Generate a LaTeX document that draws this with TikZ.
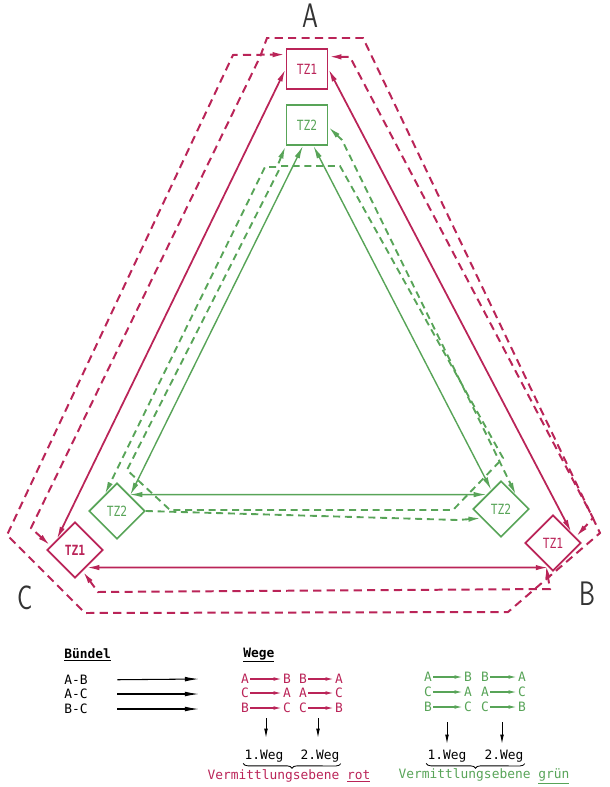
\documentclass[tikz,border=0pt]{standalone}
\usepackage{fontspec}
\setmainfont{DejaVu Sans}
\newfontfamily\legfont{DejaVu Sans Mono}
\usetikzlibrary{arrows.meta,shapes.geometric,decorations.pathreplacing}

\definecolor{vrot}{RGB}{186,36,88}
\definecolor{vgruen}{RGB}{88,164,88}

\newcommand{\tzlabel}[1]{\scalebox{0.8}[1]{#1}}

\begin{document}
\begin{tikzpicture}[
    x=0.03cm, y=-0.03cm,
    font=\legfont\fontsize{12}{13}\selectfont,
    tzbox/.style={
        draw,
        rectangle,
        line width=1.6pt,
        minimum width=1.23cm,
        minimum height=1.2cm,
        inner sep=0pt
    },
    tzdia/.style={
        draw,
        diamond,
        aspect=1,
        line width=1.6pt,
        minimum width=1.68cm,
        minimum height=1.68cm,
        inner sep=0pt
    },
    both/.style={arrows={Latex[length=11pt,width=4.6pt]-Latex[length=11pt,width=4.6pt]}},
    tohead/.style={arrows={-Latex[length=11pt,width=4.6pt]}},
    rsolid/.style={draw=vrot, line width=1.5pt},
    rdash/.style={draw=vrot, line width=1.7pt, dash pattern=on 7pt off 4.5pt},
    gsolid/.style={draw=vgruen, line width=1.2pt},
    gdash/.style={draw=vgruen, line width=1.6pt, dash pattern=on 6pt off 4pt},
    corner/.style={font=\sffamily\fontsize{29}{29}\selectfont, text=black!80},
    leg/.style={font=\legfont\fontsize{11}{12}\selectfont, inner sep=1pt},
    barrow/.style={arrows={-Latex[length=12pt,width=4pt]}, line width=0.9pt},
    downarrow/.style={arrows={-Latex[length=8pt,width=3.2pt]}, line width=0.8pt},
    rsmall/.style={arrows={-Latex[length=7pt,width=3.2pt]}, draw=vrot, line width=1pt},
    gsmall/.style={arrows={-Latex[length=7pt,width=3.2pt]}, draw=vgruen, line width=1pt}
]

% ---------------------------------------------------------
% Canvas
% ---------------------------------------------------------
\path[use as bounding box] (0,0) rectangle (609,787);

\node[corner] (labA) at (310,16) {\scalebox{0.75}[1]{A}};
\node[corner] (labB) at (587,594) {\scalebox{0.75}[1]{B}};
\node[corner] (labC) at (25,598) {\scalebox{0.75}[1]{C}};

% ---------------------------------------------------------
% Transit exchanges
% ---------------------------------------------------------
\node[tzbox, draw=vrot, text=vrot] (tzA1) at (307,69) {\tzlabel{TZ1}};
\node[tzbox, draw=vgruen, text=vgruen, line width=1.4pt] (tzA2) at (307,125) {\tzlabel{TZ2}};

\node[tzdia, draw=vrot, text=vrot, font=\legfont\bfseries\fontsize{12}{13}\selectfont]
    (tzC1) at (75,550) {\tzlabel{TZ1}};
\node[tzdia, draw=vrot, text=vrot] (tzB1) at (553,543) {\tzlabel{TZ1}};

\node[tzdia, draw=vgruen, text=vgruen, line width=1.4pt] (tzC2) at (117,511) {\tzlabel{TZ2}};
\node[tzdia, draw=vgruen, text=vgruen, line width=1.4pt] (tzB2) at (501,509) {\tzlabel{TZ2}};

% ---------------------------------------------------------
% Red level: direct bundles
% ---------------------------------------------------------
\draw[rsolid, both] (tzA1.west) -- (tzC1.150);
\draw[rsolid, both] (tzA1.east) -- (tzB1.30);
\draw[rsolid, both] (tzC1.-57) -- (tzB1.-100);

% red level: second paths
\coordinate (rl1) at (31,528);
\coordinate (rl2) at (260,57);
\coordinate (rt1) at (267,38);
\coordinate (rt2) at (363,38);
\coordinate (rb1) at (600,533);
\coordinate (rb2) at (508,612);
\coordinate (rc1) at (85,613);
\coordinate (rc2) at (7,535);
\coordinate (rl3) at (233,55);

\draw[rdash, both] (tzC1.170) -- (rl1) -- (rl2) -- (rt1) -- (rt2) -- (rb1)
    -- (rb2) -- (rc1) -- (rc2) -- (rl3) -- (tzA1.146);

\coordinate (rr1) at (350,57);
\coordinate (rr2) at (593,518);
\draw[rdash, both] (tzA1.30) -- (rr1) -- (rr2) -- (tzB1.15);

\coordinate (ru1) at (98,592);
\coordinate (ru2) at (550,589);
\draw[rdash, both] (tzC1.-70) -- (ru1) -- (ru2) -- (tzB1.-108);

% ---------------------------------------------------------
% Green level: direct bundles
% ---------------------------------------------------------
\draw[gsolid, both] (tzA2.-101) -- (tzC2.50);
\draw[gsolid, both] (tzA2.-73) -- (tzB2.117);
\draw[gsolid, both] (tzC2.53) -- (tzB2.135);

% green level: second paths
\coordinate (gl1) at (265,167);
\coordinate (gl2) at (277,167);
\draw[gdash, both] (tzA2.south west) -- (gl2) -- (gl1) -- (tzC2.127);

\coordinate (gr1) at (342,140);
\draw[gdash, both] (tzA2.-5) -- (gr1) -- (tzB2.42);

\coordinate (gi1) at (281,166);
\coordinate (gi2) at (340,166);
\coordinate (gi3) at (503,458);
\coordinate (gi4) at (453,510);
\coordinate (gi5) at (170,510);
\coordinate (gi6) at (127,470);
\draw[gdash] (gi1) -- (gi2) -- (gi3) -- (gi4) -- (gi5) -- (gi6) -- cycle;

\coordinate (gu1) at (458,520);
\draw[gdash, tohead] (tzC2.east) -- (gu1) -- (tzB2.-155);

% ---------------------------------------------------------
% Legend: bundles
% ---------------------------------------------------------
\node[leg, anchor=west] (buendel) at (63,655) {\underline{\textbf{Bündel}}};
\node[leg, anchor=west] (bAB) at (63,680) {A-B};
\node[leg, anchor=west] (bAC) at (63,694) {A-C};
\node[leg, anchor=west] (bBC) at (63,709) {B-C};

\coordinate (bABe) at (199,679);
\coordinate (bACe) at (199,694);
\coordinate (bBCe) at (199,709);
\draw[barrow, shorten <=0.85cm] (bAB.east) -- (bABe);
\draw[barrow, shorten <=0.85cm] (bAC.east) -- (bACe);
\draw[barrow, shorten <=0.85cm] (bBC.east) -- (bBCe);

% ---------------------------------------------------------
% Legend: red paths
% ---------------------------------------------------------
\node[leg, anchor=west] (wege) at (242,655) {\underline{\textbf{Wege}}};

\node[leg, text=vrot] (r1a) at (245,679) {A};
\node[leg, text=vrot] (r1b) at (287,679) {B};
\node[leg, text=vrot] (r1c) at (303,679) {B};
\node[leg, text=vrot] (r1d) at (339,679) {A};
\node[leg, text=vrot] (r2a) at (245,693) {C};
\node[leg, text=vrot] (r2b) at (287,693) {A};
\node[leg, text=vrot] (r2c) at (303,693) {A};
\node[leg, text=vrot] (r2d) at (339,693) {C};
\node[leg, text=vrot] (r3a) at (245,708) {B};
\node[leg, text=vrot] (r3b) at (287,708) {C};
\node[leg, text=vrot] (r3c) at (303,708) {C};
\node[leg, text=vrot] (r3d) at (339,708) {B};

\draw[rsmall] (r1a) -- (r1b);
\draw[rsmall] (r1c) -- (r1d);
\draw[rsmall] (r2a) -- (r2b);
\draw[rsmall] (r2c) -- (r2d);
\draw[rsmall] (r3a) -- (r3b);
\draw[rsmall] (r3c) -- (r3d);

\coordinate (rw1t) at (266,718);
\coordinate (rw1b) at (266,738);
\coordinate (rw2t) at (318,718);
\coordinate (rw2b) at (318,738);
\draw[downarrow] (rw1t) -- (rw1b);
\draw[downarrow] (rw2t) -- (rw2b);

\node[leg] (rweg1) at (264,756) {1.Weg};
\node[leg] (rweg2) at (320,756) {2.Weg};
\draw[decorate, decoration={brace, mirror, amplitude=4pt}, line width=0.7pt]
    (rweg1.south west) -- (rweg2.south east);
\node[leg, text=vrot] (rebene) at (289,776) {Vermittlungsebene \underline{rot}};

% ---------------------------------------------------------
% Legend: green paths
% ---------------------------------------------------------
\node[leg, text=vgruen] (g1a) at (428,677) {A};
\node[leg, text=vgruen] (g1b) at (468,677) {B};
\node[leg, text=vgruen] (g1c) at (485,677) {B};
\node[leg, text=vgruen] (g1d) at (522,677) {A};
\node[leg, text=vgruen] (g2a) at (428,692) {C};
\node[leg, text=vgruen] (g2b) at (468,692) {A};
\node[leg, text=vgruen] (g2c) at (485,692) {A};
\node[leg, text=vgruen] (g2d) at (522,692) {C};
\node[leg, text=vgruen] (g3a) at (428,707) {B};
\node[leg, text=vgruen] (g3b) at (468,707) {C};
\node[leg, text=vgruen] (g3c) at (485,707) {C};
\node[leg, text=vgruen] (g3d) at (522,707) {B};

\draw[gsmall] (g1a) -- (g1b);
\draw[gsmall] (g1c) -- (g1d);
\draw[gsmall] (g2a) -- (g2b);
\draw[gsmall] (g2c) -- (g2d);
\draw[gsmall] (g3a) -- (g3b);
\draw[gsmall] (g3c) -- (g3d);

\coordinate (gw1t) at (447,722);
\coordinate (gw1b) at (447,744);
\coordinate (gw2t) at (502,722);
\coordinate (gw2b) at (502,744);
\draw[downarrow] (gw1t) -- (gw1b);
\draw[downarrow] (gw2t) -- (gw2b);

\node[leg] (gweg1) at (447,756) {1.Weg};
\node[leg] (gweg2) at (504,756) {2.Weg};
\draw[decorate, decoration={brace, mirror, amplitude=4pt}, line width=0.7pt]
    (gweg1.south west) -- (gweg2.south east);
\node[leg, text=vgruen] (gebene) at (484,776) {Vermittlungsebene \underline{grün}};

\end{tikzpicture}
\end{document}
